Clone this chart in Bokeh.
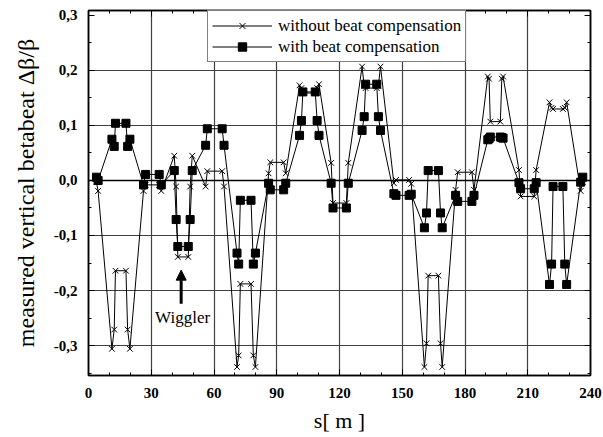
from bokeh.plotting import figure
from bokeh.models import (Range1d, FixedTicker, LinearAxis, Span, Arrow, NormalHead,
                          Label, Legend, LegendItem)
from bokeh.embed import file_html
from bokeh.resources import INLINE

# ---- data ----
s_pos = [3.8, 4.6,
         11.2, 12.3, 12.9, 17.9, 18.7, 19.8,
         26.3, 27.3, 33.8, 34.8,
         41.0, 41.9, 42.7, 47.7, 48.6, 49.6,
         56.0, 56.8, 63.9, 64.8,
         71.0, 71.8, 72.6, 77.7, 78.8, 79.8,
         86.1, 86.9, 93.3, 94.3,
         100.9, 101.8, 102.5, 108.4, 109.3, 110.2,
         116.0, 116.9, 123.3, 124.2,
         130.8, 131.8, 132.5, 137.8, 138.6, 139.6,
         146.0, 147.0, 153.3, 154.3,
         160.6, 161.6, 162.4, 167.3, 168.3, 169.1,
         175.5, 176.5, 183.3, 184.3,
         190.9, 191.5, 192.1, 196.9, 197.6, 198.2,
         205.8, 206.6, 213.1, 214.0,
         220.4, 221.4, 222.1, 226.8, 227.7, 228.6,
         235.3, 236.3]

without_comp = [-0.003, -0.019,
                -0.306, -0.271, -0.164, -0.164, -0.271, -0.306,
                -0.019, -0.008, -0.008, -0.019,
                0.045, -0.011, -0.139, -0.139, -0.011, 0.045,
                -0.011, 0.017, 0.017, -0.011,
                -0.339, -0.318, -0.188, -0.188, -0.318, -0.339,
                0.013, 0.033, 0.033, 0.013,
                0.173, 0.168, 0.159, 0.159, 0.168, 0.175,
                0.032, -0.041, -0.041, 0.032,
                0.207, 0.172, 0.168, 0.168, 0.172, 0.207,
                -0.005, 0.001, 0.001, -0.006,
                -0.339, -0.296, -0.173, -0.173, -0.296, -0.339,
                -0.017, 0.015, 0.015, -0.017,
                0.189, 0.185, 0.107, 0.107, 0.185, 0.189,
                0.019, -0.029, -0.029, 0.019,
                0.142, 0.132, 0.130, 0.130, 0.132, 0.142,
                -0.019, -0.003]

with_comp = [0.006, 0.000,
             0.075, 0.062, 0.104, 0.104, 0.062, 0.075,
             -0.008, 0.011, 0.011, -0.008,
             0.018, -0.071, -0.120, -0.120, -0.071, 0.018,
             0.064, 0.094, 0.094, 0.064,
             -0.132, -0.152, -0.036, -0.036, -0.152, -0.132,
             -0.005, -0.017, -0.017, -0.005,
             0.082, 0.109, 0.161, 0.161, 0.109, 0.082,
             -0.005, -0.050, -0.050, -0.005,
             0.091, 0.116, 0.175, 0.175, 0.116, 0.091,
             -0.024, -0.027, -0.027, -0.025,
             -0.086, -0.059, 0.018, 0.018, -0.059, -0.086,
             -0.027, -0.038, -0.038, -0.027,
             0.074, 0.076, 0.079, 0.079, 0.078, 0.077,
             -0.004, -0.015, -0.015, -0.004,
             -0.189, -0.152, -0.011, -0.011, -0.152, -0.189,
             -0.003, 0.006]

x_ticks = [0, 30, 60, 90, 120, 150, 180, 210, 240]
x_tick_labels = ["0", "30", "60", "90", "120", "150", "180", "210", "240"]
x_minor = [10, 20, 40, 50, 70, 80, 100, 110, 130, 140, 160, 170, 190, 200, 220, 230]
y_ticks = [-0.3, -0.2, -0.1, 0.0, 0.1, 0.2, 0.3]
y_tick_labels = ["-0,3", "-0,2", "-0,1", "0,0", "0,1", "0,2", "0,3"]
y_minor = [-0.35, -0.25, -0.15, -0.05, 0.05, 0.15, 0.25]

legend_labels = ["without beat compensation", "with beat compensation"]
annotation_text = "Wiggler"
wiggler_s = 44.3

FONT = "Liberation Serif"

p = figure(width=603, height=437, output_backend="svg", toolbar_location=None,
           x_range=Range1d(0, 240), y_range=Range1d(-0.3545, 0.309),
           min_border_left=88, min_border_right=13, min_border_top=10, min_border_bottom=62)
p.background_fill_color = "white"
p.border_fill_color = "white"
p.outline_line_color = "black"
p.outline_line_width = 1.5

xt = FixedTicker(ticks=x_ticks, minor_ticks=x_minor)
yt = FixedTicker(ticks=y_ticks, minor_ticks=y_minor)

def style_axis(ax, show_labels):
    ax.axis_line_color = "black"
    ax.axis_line_width = 1.5
    ax.major_tick_in = 6
    ax.major_tick_out = 0
    ax.minor_tick_in = 3
    ax.minor_tick_out = 0
    ax.major_tick_line_color = "black"
    ax.minor_tick_line_color = "black"
    ax.major_tick_line_width = 1
    if show_labels:
        ax.major_label_text_font = FONT
        ax.major_label_text_font_style = "bold"
        ax.major_label_text_font_size = "15px"
        ax.major_label_text_color = "black"
        ax.axis_label_text_color = "black"
        ax.axis_label_text_font = FONT
        ax.axis_label_text_font_style = "normal"
    else:
        ax.major_label_text_font_size = "0px"
        ax.major_label_text_alpha = 0

xa = p.xaxis[0]
xa.ticker = xt
xa.major_label_overrides = dict(zip(x_ticks, x_tick_labels))
style_axis(xa, True)
xa.major_label_standoff = 12
xa.axis_label = "s[ m ]"
xa.axis_label_text_font_size = "22px"
xa.axis_label_standoff = 7

ya = p.yaxis[0]
ya.ticker = yt
ya.major_label_overrides = dict(zip(y_ticks, y_tick_labels))
style_axis(ya, True)
ya.major_label_standoff = 11
ya.axis_label = "measured vertical betabeat \u0394\u03b2/\u03b2"
ya.axis_label_text_font_size = "24px"
ya.axis_label_standoff = 12

top_ax = LinearAxis(ticker=xt)
style_axis(top_ax, False)
p.add_layout(top_ax, "above")
right_ax = LinearAxis(ticker=yt)
style_axis(right_ax, False)
p.add_layout(right_ax, "right")

p.xgrid.ticker = FixedTicker(ticks=x_ticks[1:-1])
p.ygrid.ticker = FixedTicker(ticks=[t for t in y_ticks if t != 0.0 and t != 0.3])
p.xgrid.grid_line_color = "#404040"
p.ygrid.grid_line_color = "#404040"
p.xgrid.grid_line_width = 1.2
p.ygrid.grid_line_width = 1.2

p.add_layout(Span(location=0, dimension="width", line_color="black", line_width=1.3))

l1 = p.line(s_pos, without_comp, line_color="black", line_width=1)
m1 = p.scatter(s_pos, without_comp, marker="x", size=8, line_color="black", line_width=1)
l2 = p.line(s_pos, with_comp, line_color="black", line_width=1)
m2 = p.scatter(s_pos, with_comp, marker="square", size=8, fill_color="black",
               line_color="black")

legend = Legend(items=[LegendItem(label=legend_labels[0], renderers=[l1, m1]),
                       LegendItem(label=legend_labels[1], renderers=[l2, m2])],
                location=(119, 313))
legend.label_text_font = FONT
legend.label_text_font_size = "17px"
legend.label_text_color = "black"
legend.glyph_width = 60
legend.glyph_height = 21
legend.label_height = 21
legend.label_standoff = 6
legend.padding = 4
legend.spacing = 0
legend.margin = 0
legend.border_line_color = "black"
legend.border_line_width = 1.2
legend.background_fill_alpha = 1
p.add_layout(legend, "center")

p.add_layout(Arrow(end=NormalHead(size=10, fill_color="black", line_color="black"),
                   x_start=wiggler_s, y_start=-0.224, x_end=wiggler_s, y_end=-0.163,
                   line_width=3, line_color="black"))
p.add_layout(Label(x=45.0, y=-0.249, text=annotation_text, text_font=FONT,
                   text_font_size="17px", text_align="center", text_baseline="middle",
                   text_color="black"))

open("out.html", "w").write(file_html(p, INLINE))
